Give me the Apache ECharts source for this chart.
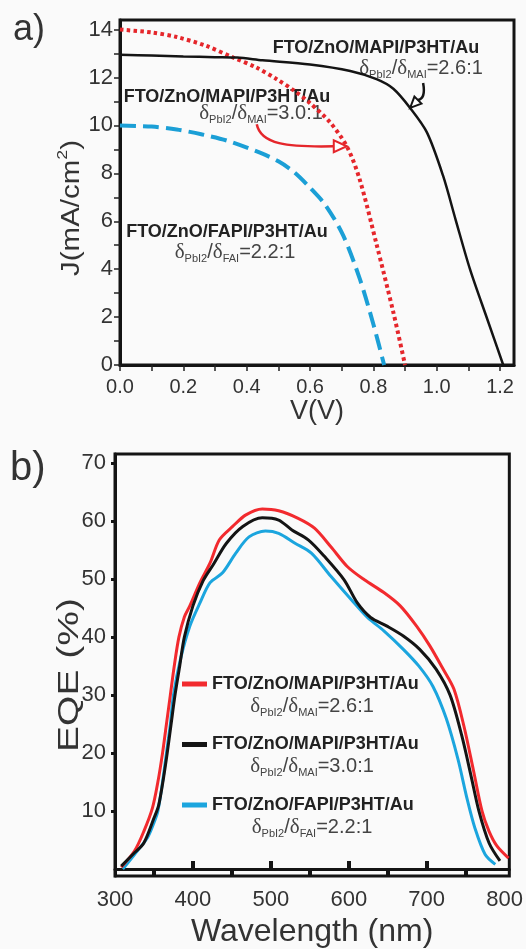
<!DOCTYPE html>
<html>
<head>
<meta charset="utf-8">
<script src="https://cdn.jsdelivr.net/npm/echarts@6/dist/echarts.min.js"></script>
<style>
  html, body { margin: 0; padding: 0; background: #fafafa; }
  #chart { width: 526px; height: 949px; }
</style>
</head>
<body>
<div id="chart"></div>
<script>
// ---- a) J–V curves ----
const jvVBlack = [0, 0.1, 0.2, 0.3, 0.37, 0.45, 0.6, 0.727, 0.81, 0.863, 0.916, 0.969, 1.02, 1.06, 1.105, 1.16, 1.21];
const jvJBlack = [12.95, 12.92, 12.88, 12.85, 12.83, 12.72, 12.54, 12.27, 11.93, 11.53, 10.73, 9.71, 7.9, 6.05, 4.0, 1.9, 0];

const jvVRed = [0, 0.1, 0.179, 0.27, 0.358, 0.43, 0.495, 0.55, 0.6, 0.663, 0.716, 0.756, 0.81, 0.863, 0.9];
const jvJRed = [14.0, 13.88, 13.69, 13.33, 12.83, 12.42, 11.93, 11.45, 10.93, 10.13, 9.13, 7.78, 5.04, 2.2, 0];

const jvVBlue = [0, 0.1, 0.179, 0.26, 0.337, 0.442, 0.5, 0.55, 0.6, 0.65, 0.705, 0.758, 0.8, 0.834];
const jvJBlue = [10.0, 9.95, 9.83, 9.62, 9.37, 8.86, 8.5, 8.05, 7.4, 6.65, 5.4, 3.56, 1.7, 0];

const jvVTicks = [0, 0.1, 0.2, 0.3, 0.4, 0.5, 0.6, 0.7, 0.8, 0.9, 1.0, 1.1, 1.2];
const jvVLabels = [0, 0.2, 0.4, 0.6, 0.8, 1.0, 1.2];
const jvJTicks = [0, 1, 2, 3, 4, 5, 6, 7, 8, 9, 10, 11, 12, 13, 14];
const jvJLabels = [0, 2, 4, 6, 8, 10, 12, 14];

// ---- b) EQE spectra ----
const eqeWlRed = [308, 325, 337, 348, 355, 361, 366, 371, 376, 382, 389, 396, 409, 422, 434, 451, 468, 489, 510, 535, 556, 577, 598, 620, 645, 666, 687, 704, 721, 735, 748, 760, 771, 780, 790, 805];
const eqeRed = [0.3, 3.1, 6.5, 10.5, 15, 20, 25, 30, 35, 40, 43.5, 45.4, 49.4, 52.8, 56.8, 59.1, 61.1, 62.1, 61.8, 60.5, 58.8, 55.6, 52.2, 49.9, 47.7, 45.4, 41.9, 38.5, 34.5, 31, 24.5, 17, 10, 6.5, 4, 1.9];

const eqeWlBlack = [308, 325, 337, 350, 356, 362, 367, 372, 377, 383, 389, 400, 413, 426, 443, 464, 489, 510, 527, 548, 569, 594, 611, 628, 649, 670, 691, 712, 730, 745, 757, 767, 780, 794];
const eqeBlack = [0.5, 2.8, 4.5, 8.8, 11, 15.5, 20, 25, 30, 35, 40, 45.4, 49.7, 52.5, 56.2, 59.1, 60.6, 60.2, 58.5, 56.8, 53.9, 49.9, 45.9, 43.4, 41.9, 40.2, 37.9, 34.5, 30, 23, 16, 10, 4.5, 1.4];

const eqeWlBlue = [310, 325, 342, 350, 355, 361, 366, 371, 375, 384, 396, 409, 422, 438, 455, 472, 493, 510, 531, 552, 577, 603, 624, 645, 670, 690, 708, 725, 740, 752, 762, 775, 788];
const eqeBlue = [0, 2.5, 5.5, 8, 10, 15, 20, 25, 30, 36.2, 41.9, 45.9, 49.4, 51.1, 54.5, 57.3, 58.3, 57.9, 56.2, 54.5, 50.5, 46.5, 43.4, 41.1, 37.9, 35, 31.5, 26, 19, 12, 7, 2.5, 0.8];

const eqeWlLabels = [300, 400, 500, 600, 700, 800];
const eqeWlMajorTicks = [400, 500, 600, 700];
const eqeWlMinorTicks = [350, 450, 550, 650, 750];
const eqeLabels = [10, 20, 30, 40, 50, 60, 70];

const device = {
  mapi26: 'FTO/ZnO/MAPI/P3HT/Au',
  mapi30: 'FTO/ZnO/MAPI/P3HT/Au',
  fapi22: 'FTO/ZnO/FAPI/P3HT/Au'
};

const zip = (xs, ys) => xs.map((x, i) => [x, ys[i]]);

const SANS = '"Liberation Sans", Arial, sans-serif';
const SERIF = '"Liberation Serif", "DejaVu Serif", serif';
const RED_A = '#e5262b', BLUE_A = '#1b9fd6', BLACK = '#141414';
const RED_B = '#f22a2e', BLUE_B = '#1ba5de';

const ratioRich = {
  d: { fontFamily: SERIF, fontSize: 21, fill: '#444', verticalAlign: 'middle', lineHeight: 24 },
  s: { fontFamily: SANS, fontSize: 11, fill: '#444', verticalAlign: 'bottom', lineHeight: 24 },
  t: { fontFamily: SANS, fontSize: 20, fill: '#444', verticalAlign: 'middle', lineHeight: 24 }
};
function ratioText(x, y, a, b, val) {
  return {
    type: 'text', x: x, y: y, silent: true,
    style: {
      text: '{d|δ}{s|' + a + '}{t|/}{d|δ}{s|' + b + '}{t|=' + val + '}',
      rich: ratioRich, align: 'center', verticalAlign: 'middle'
    }
  };
}
function boldText(x, y, txt) {
  return {
    type: 'text', x: x, y: y, silent: true,
    style: { text: txt, font: 'bold 18px ' + SANS, fill: '#222', align: 'center', verticalAlign: 'middle' }
  };
}

const chart = echarts.init(document.getElementById('chart'));

const lineBase = { type: 'line', showSymbol: false, smooth: 0.3 };

const option = {
  backgroundColor: '#fafafa',
  animation: false,
  grid: [
    { left: 120, top: 20, width: 394, height: 345, show: true, borderColor: BLACK, borderWidth: 3, backgroundColor: 'transparent' },
    { left: 115, top: 454, width: 399, height: 424, show: true, borderColor: BLACK, borderWidth: 3, backgroundColor: 'transparent' }
  ],
  xAxis: [
    {
      type: 'value', gridIndex: 0, min: 0, max: 1.244,
      name: 'V(V)', nameLocation: 'middle', nameGap: 33,
      nameTextStyle: { fontFamily: SANS, fontSize: 27, color: '#333' },
      axisLine: { lineStyle: { color: BLACK, width: 3 } },
      axisTick: { customValues: jvVTicks, length: 6, lineStyle: { color: '#222', width: 1.5 } },
      axisLabel: { customValues: jvVLabels, margin: 12, fontFamily: SANS, fontSize: 20, color: '#333', formatter: v => v.toFixed(1) },
      splitLine: { show: false }
    },
    {
      type: 'value', gridIndex: 1, min: 300, max: 806,
      name: 'Wavelength (nm)', nameLocation: 'middle', nameGap: 40,
      nameTextStyle: { fontFamily: SANS, fontSize: 32, color: '#333' },
      axisLine: { lineStyle: { color: BLACK, width: 3 } },
      axisTick: { inside: true, customValues: eqeWlMajorTicks, length: 8, lineStyle: { color: BLACK, width: 4 } },
      axisLabel: { customValues: eqeWlLabels, margin: 13, fontFamily: SANS, fontSize: 22, color: '#333' },
      splitLine: { show: false }
    },
    {
      type: 'value', gridIndex: 1, min: 300, max: 806, position: 'bottom',
      axisLine: { show: false },
      axisTick: { inside: true, customValues: eqeWlMinorTicks, length: 5, lineStyle: { color: BLACK, width: 4 } },
      axisLabel: { show: false },
      splitLine: { show: false }
    }
  ],
  yAxis: [
    {
      type: 'value', gridIndex: 0, min: 0, max: 14.4,
      axisLine: { lineStyle: { color: BLACK, width: 3 } },
      axisTick: { customValues: jvJTicks, length: 6, lineStyle: { color: '#222', width: 1.5 } },
      axisLabel: { customValues: jvJLabels, margin: 7, fontFamily: SANS, fontSize: 22, color: '#333' },
      splitLine: { show: false }
    },
    {
      type: 'value', gridIndex: 1, min: -1.2, max: 71.6,
      axisLine: { lineStyle: { color: BLACK, width: 3 } },
      axisTick: { customValues: eqeLabels, length: 4, lineStyle: { color: BLACK, width: 3 } },
      axisLabel: { customValues: eqeLabels, margin: 9, fontFamily: SANS, fontSize: 22, color: '#333' },
      splitLine: { show: false }
    }
  ],
  legend: {
    orient: 'vertical', left: 177, top: 670,
    icon: 'rect', itemWidth: 25, itemHeight: 5, itemGap: 42.5, itemTextGap: 4,
    selectedMode: false,
    data: ['mapi26', 'mapi30', 'fapi22'],
    formatter: name => device[name],
    textStyle: { fontFamily: SANS, fontWeight: 'bold', fontSize: 18, color: '#222' }
  },
  series: [
    Object.assign({}, lineBase, {
      name: 'jv26', xAxisIndex: 0, yAxisIndex: 0, z: 3,
      color: BLACK, lineStyle: { color: BLACK, width: 2.5 },
      data: zip(jvVBlack, jvJBlack)
    }),
    Object.assign({}, lineBase, {
      name: 'jv30', xAxisIndex: 0, yAxisIndex: 0, z: 2,
      color: RED_A, lineStyle: { color: RED_A, width: 4, type: [3.5, 3.3], cap: 'butt' },
      data: zip(jvVRed, jvJRed)
    }),
    Object.assign({}, lineBase, {
      name: 'jvFA', xAxisIndex: 0, yAxisIndex: 0, z: 2,
      color: BLUE_A, lineStyle: { color: BLUE_A, width: 4, type: [16, 7], cap: 'butt' },
      data: zip(jvVBlue, jvJBlue)
    }),
    Object.assign({}, lineBase, {
      name: 'mapi26', xAxisIndex: 1, yAxisIndex: 1, z: 3,
      color: RED_B, lineStyle: { color: RED_B, width: 3 },
      data: zip(eqeWlRed, eqeRed)
    }),
    Object.assign({}, lineBase, {
      name: 'mapi30', xAxisIndex: 1, yAxisIndex: 1, z: 4,
      color: BLACK, lineStyle: { color: BLACK, width: 3 },
      data: zip(eqeWlBlack, eqeBlack)
    }),
    Object.assign({}, lineBase, {
      name: 'fapi22', xAxisIndex: 1, yAxisIndex: 1, z: 2,
      color: BLUE_B, lineStyle: { color: BLUE_B, width: 3 },
      data: zip(eqeWlBlue, eqeBlue)
    })
  ]
};
chart.setOption(option);

// Annotation arrows anchored to points on the J–V curves
const tipBlack = chart.convertToPixel({ gridIndex: 0 }, [jvVBlack[10], jvJBlack[10]]);
const tipRed = chart.convertToPixel({ gridIndex: 0 }, [jvVRed[10], jvJRed[10]]);

const graphics = [
  { type: 'text', left: 13, top: 12, silent: true, style: { text: 'a)', font: '36px ' + SANS, fill: '#333' } },
  { type: 'text', left: 10, top: 449, silent: true, style: { text: 'b)', font: '40px ' + SANS, fill: '#333' } },

  // rotated y-axis titles
  {
    type: 'text', x: 70, y: 208, rotation: Math.PI / 2, scaleX: 1.18, silent: true,
    style: {
      text: '{a|J(mA/cm}{p|2}{a|)}', align: 'center', verticalAlign: 'middle',
      rich: {
        a: { fontFamily: SANS, fontSize: 25, fill: '#333', verticalAlign: 'bottom', lineHeight: 30 },
        p: { fontFamily: SANS, fontSize: 15, fill: '#333', verticalAlign: 'top', lineHeight: 30 }
      }
    }
  },
  {
    type: 'text', x: 70, y: 675, rotation: Math.PI / 2, scaleX: 1.3, silent: true,
    style: { text: 'EQE (%)', font: '30px ' + SANS, fill: '#333', align: 'center', verticalAlign: 'middle' }
  },

  // a) curve labels
  boldText(376, 48, 'FTO/ZnO/MAPI/P3HT/Au'),
  ratioText(421, 68, 'PbI2', 'MAI', '2.6:1'),
  boldText(227, 97, 'FTO/ZnO/MAPI/P3HT/Au'),
  ratioText(261, 113, 'PbI2', 'MAI', '3.0:1'),
  boldText(227, 232, 'FTO/ZnO/FAPI/P3HT/Au'),
  ratioText(235, 252, 'PbI2', 'FAI', '2.2:1'),

  // b) legend ratios
  ratioText(312, 706, 'PbI2', 'MAI', '2.6:1'),
  ratioText(312, 766, 'PbI2', 'MAI', '3.0:1'),
  ratioText(312, 827, 'PbI2', 'FAI', '2.2:1'),

  // arrow to the black J–V curve
  {
    type: 'bezierCurve', silent: true, z: 10,
    shape: { x1: tipBlack[0] + 13, y1: tipBlack[1] - 25, cpx1: tipBlack[0] + 15, cpy1: tipBlack[1] - 14, cpx2: tipBlack[0] + 13, cpy2: tipBlack[1] - 9, x2: tipBlack[0] + 8, y2: tipBlack[1] - 8 },
    style: { stroke: BLACK, lineWidth: 2.5, fill: null }
  },
  {
    type: 'polygon', silent: true, z: 11,
    shape: { points: [[tipBlack[0], tipBlack[1]], [tipBlack[0] + 11.3, tipBlack[1] - 4.3], [tipBlack[0] + 4.3, tipBlack[1] - 11.3]] },
    style: { stroke: BLACK, lineWidth: 2, fill: '#fff' }
  },
  // arrow to the red J–V curve
  {
    type: 'bezierCurve', silent: true, z: 10,
    shape: { x1: tipRed[0] - 90, y1: tipRed[1] - 22, cpx1: tipRed[0] - 86, cpy1: tipRed[1] - 2, cpx2: tipRed[0] - 60, cpy2: tipRed[1] + 1, x2: tipRed[0] - 13, y2: tipRed[1] },
    style: { stroke: RED_A, lineWidth: 2.5, fill: null }
  },
  {
    type: 'polygon', silent: true, z: 11,
    shape: { points: [[tipRed[0], tipRed[1]], [tipRed[0] - 13, tipRed[1] - 6], [tipRed[0] - 13, tipRed[1] + 6]] },
    style: { stroke: RED_A, lineWidth: 2, fill: '#fff' }
  }
];
chart.setOption({ graphic: graphics });
</script>
</body>
</html>
